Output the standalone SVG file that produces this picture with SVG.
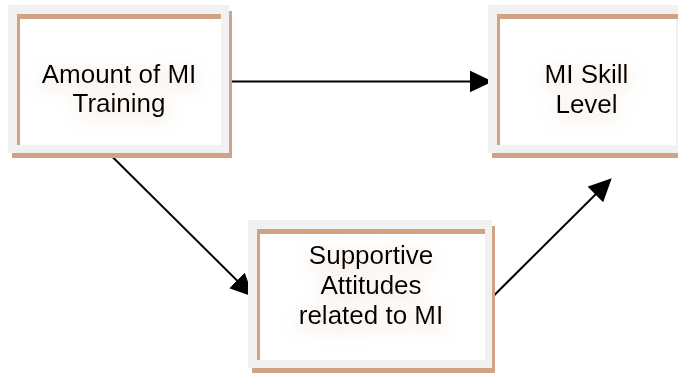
<svg xmlns="http://www.w3.org/2000/svg" width="678" height="373" viewBox="0 0 678 373">
  <style>
    .frame { fill: #f1f1f1; }
    .face { fill: #ffffff; }
    .edge { fill: #d0a384; }
    .label { font-family: "Liberation Sans", Arial, sans-serif; font-size: 26px; fill: #000000; text-anchor: middle; }
    .link { stroke: #000000; stroke-width: 2; fill: none; marker-end: url(#head); }
  </style>
  <defs>
    <marker id="head" markerUnits="userSpaceOnUse" markerWidth="23" markerHeight="22" refX="21" refY="11" orient="auto">
      <path d="M0,0 L23,11 L0,22 z" fill="#000000"/>
    </marker>
    <!-- warm soft glow under the labels -->
    <filter id="glow" x="-30%" y="-40%" width="160%" height="190%">
      <feFlood flood-color="#c79a78" flood-opacity="0.45" result="tint"/>
      <feComposite in="tint" in2="SourceAlpha" operator="in" result="shape"/>
      <feGaussianBlur in="shape" stdDeviation="9" result="blur"/>
      <feOffset in="blur" dy="5" result="shadow"/>
      <feMerge>
        <feMergeNode in="shadow"/>
        <feMergeNode in="SourceGraphic"/>
      </feMerge>
    </filter>
  </defs>

  <g id="connectors">
    <path class="link" d="M228,81.5 L490.7,81.5"/>
    <path class="link" d="M108.3,152.7 L251.9,295.3"/>
    <path class="link" d="M492.7,296.7 L610.3,179.7"/>
  </g>

  <g id="node-training">
    <rect class="frame" x="8" y="5" width="221" height="148"/>
    <rect class="face" x="17" y="14" width="204" height="131"/>
    <rect class="edge" x="17" y="14" width="204" height="5"/>
    <rect class="edge" x="17" y="14" width="3" height="131"/>
    <rect class="edge" x="229" y="11" width="3" height="147"/>
    <rect class="edge" x="12" y="153" width="220" height="5"/>
    <text class="label" filter="url(#glow)" x="119" y="83">Amount of MI<tspan x="119" y="112">Training</tspan></text>
  </g>

  <g id="node-skill">
    <rect class="frame" x="488" y="5" width="200" height="148"/>
    <rect class="face" x="497" y="14" width="179" height="131"/>
    <rect class="edge" x="497" y="14" width="181" height="5"/>
    <rect class="edge" x="497" y="14" width="3" height="131"/>
    <rect class="edge" x="492" y="153" width="186" height="5"/>
    <text class="label" filter="url(#glow)" x="586.5" y="83">MI Skill<tspan x="586.5" y="113">Level</tspan></text>
  </g>

  <g id="node-attitudes">
    <rect class="frame" x="248" y="220" width="244" height="148"/>
    <rect class="face" x="257" y="229" width="228" height="131"/>
    <rect class="edge" x="257" y="229" width="228" height="5"/>
    <rect class="edge" x="257" y="229" width="3" height="131"/>
    <rect class="edge" x="492" y="226" width="3" height="147"/>
    <rect class="edge" x="252" y="368" width="243" height="5"/>
    <text class="label" filter="url(#glow)" x="371" y="264">Supportive<tspan x="371" y="294">Attitudes</tspan><tspan x="371" y="324">related to MI</tspan></text>
  </g>
</svg>
